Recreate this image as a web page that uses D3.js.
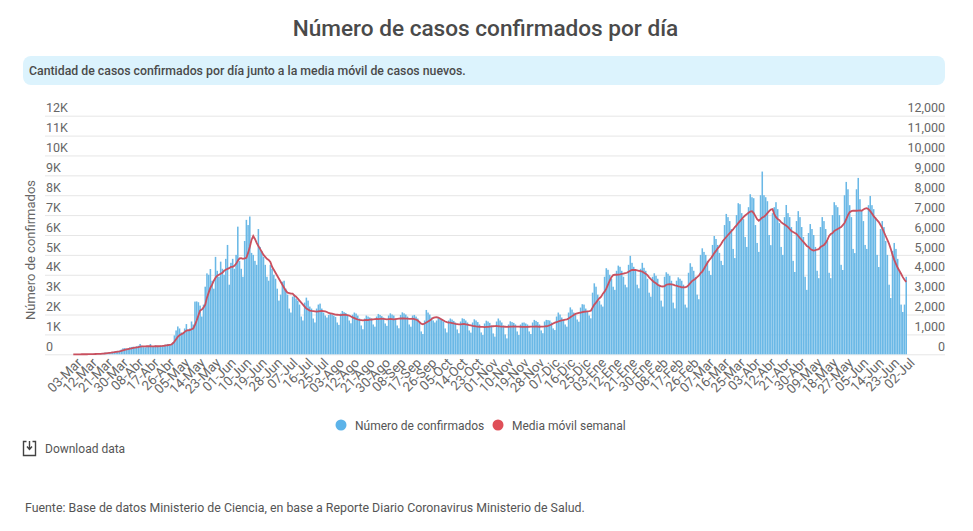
<!DOCTYPE html>
<html>
<head>
<meta charset="utf-8">
<script src="https://cdn.jsdelivr.net/npm/d3@7"></script>
<style>
  body { margin: 0; background: #fff; }
  text { font-family: Roboto, sans-serif; }
</style>
</head>
<body>
<div id="plot"></div>
<script>
// tick labels, one every 9 days
const tickLabels = ["03-Mar","12-Mar","21-Mar","30-Mar","08-Abr","17-Abr","26-Abr","05-May","14-May","23-May",
  "01-Jun","10-Jun","19-Jun","28-Jun","07-Jul","16-Jul","25-Jul","03-Ago","12-Ago","21-Ago","30-Ago",
  "08-Sep","17-Sep","26-Sep","05-Oct","14-Oct","23-Oct","01-Nov","10-Nov","19-Nov","28-Nov",
  "07-Dic","16-Dic","25-Dic","03-Ene","12-Ene","21-Ene","30-Ene","08-Feb","17-Feb","26-Feb",
  "07-Mar","16-Mar","25-Mar","03-Abr","12-Abr","21-Abr","30-Abr","09-May","18-May","27-May",
  "05-Jun","14-Jun","23-Jun","02-Jul"];

const yTicks = [0,1000,2000,3000,4000,5000,6000,7000,8000,9000,10000,11000,12000];

// daily confirmed cases
const confirmed = [1,0,
  2,1,3,4,6,2,3,
  7,10,14,33,17,20,34,
  47,60,75,90,70,80,105,
  120,140,165,170,180,235,300,
  310,290,300,350,370,380,330,
  400,430,520,430,360,350,420,
  400,520,390,410,450,420,360,
  440,420,460,480,520,480,500,
  600,950,1200,1400,1300,1100,1050,
  1300,1520,1200,1300,1650,1500,2650,
  2660,2620,2450,1900,2500,3400,4070,
  4000,4290,3700,3300,4900,4200,3900,
  4660,4300,4000,4800,5500,3500,4600,
  4800,4300,5000,6420,4700,4300,3900,
  5700,6760,6500,6930,5100,5000,4700,
  4500,6300,5400,5200,4900,4500,3900,
  3700,4500,4300,4000,3800,3300,2700,
  3000,3650,3700,3300,3000,2300,2100,
  2900,3000,2800,2700,2500,1900,1700,
  2600,2850,2700,2400,2300,1800,1600,
  2300,2500,2550,2300,2100,1950,1850,
  1980,2060,2000,1950,1880,1600,1480,
  2050,2180,2120,2080,1950,1700,1560,
  1990,2100,2050,1950,1800,1450,1260,
  1800,1950,1900,1850,1800,1500,1390,
  1900,2030,1980,1920,1850,1550,1430,
  1950,2060,2000,1950,1800,1450,1310,
  1980,2110,2060,2000,1900,1500,1390,
  1950,1980,1900,1800,1650,1150,1020,
  1700,2230,2100,2000,1850,1700,1600,
  1700,1860,1800,1750,1650,1300,1100,
  1700,1800,1750,1680,1600,1250,1060,
  1650,1810,1780,1700,1600,1200,1090,
  1600,1760,1700,1620,1500,1100,970,
  1550,1690,1650,1580,1450,1050,890,
  1650,1800,1700,1600,1450,1000,800,
  1500,1660,1620,1580,1500,1150,970,
  1500,1590,1600,1550,1500,1150,1020,
  1600,1730,1680,1620,1500,1200,1060,
  1650,1730,1720,1700,1600,1300,1220,
  1900,2100,2000,1850,1750,1500,1390,
  2100,2360,2250,2100,2000,1750,1640,
  2350,2520,2500,2300,2150,1950,1810,
  3100,3570,3400,3000,2700,2500,2400,
  3900,4330,4250,4000,3800,3400,3240,
  4200,4460,4400,4200,3900,3500,3370,
  4500,4950,4600,4400,4200,3500,3320,
  4300,4600,4350,4200,3800,3100,2900,
  3900,4075,3950,3800,3500,2700,2400,
  3900,4125,4050,3950,3700,2600,2310,
  3700,3870,3800,3700,3500,2500,2350,
  4100,4580,4400,4200,3900,3000,2770,
  5000,5330,5150,5000,4700,4200,3990,
  5500,5950,5800,5500,5100,4700,4490,
  6500,7060,6900,6700,6300,5300,4840,
  7000,7600,7550,7100,6800,5900,5400,
  7400,8050,7900,7850,6500,5600,5150,
  8000,9190,8000,7900,7700,6000,5490,
  7100,7400,7650,7300,6600,5400,5000,
  6900,7510,7100,6900,6400,4700,4140,
  6700,7200,6900,6400,5900,3900,3240,
  6100,6550,6300,6000,5400,4200,3830,
  6400,6900,6700,6300,5700,4100,3830,
  7000,7650,7500,7400,7000,4500,4240,
  8000,8670,8300,7500,6900,5300,5090,
  8300,8870,7800,7200,6700,5500,5300,
  7500,7960,7500,7300,6900,5000,4390,
  6300,6700,6400,5700,5000,3500,2830,
  5200,5600,5300,4800,4200,2500,2130,
  2500,3900];

// weekly moving average
const movingAvg = [0,0,
  1,1,1,2,2,3,3,
  4,6,8,11,14,17,20,
  25,32,40,50,60,70,80,
  92,105,120,135,150,170,195,
  220,245,265,285,300,320,335,
  350,365,385,395,400,400,405,
  405,410,400,395,405,410,405,
  415,420,430,445,455,470,480,
  540,640,760,880,960,1010,1050,
  1130,1190,1210,1220,1260,1300,1480,
  1700,1950,2200,2250,2350,2500,2850,
  3100,3350,3500,3700,3850,3950,4000,
  4050,4100,4200,4250,4300,4330,4400,
  4400,4450,4550,4700,4820,4830,4800,
  4820,4850,5100,5400,5750,5950,5800,
  5600,5450,5300,5150,5000,4900,4800,
  4750,4650,4400,4250,4100,3950,3800,
  3650,3500,3350,3200,3100,3080,3050,
  3050,2950,2900,2800,2700,2600,2500,
  2400,2300,2250,2200,2180,2170,2160,
  2150,2160,2170,2180,2170,2160,2130,
  2080,2060,2040,2020,2000,1990,1980,
  1970,1980,1990,1980,1970,1950,1900,
  1860,1820,1780,1750,1730,1720,1710,
  1720,1730,1720,1740,1750,1760,1770,
  1780,1770,1780,1790,1780,1770,1760,
  1770,1780,1770,1760,1770,1780,1790,
  1800,1810,1800,1790,1790,1780,1780,
  1790,1770,1750,1700,1620,1540,1510,
  1550,1600,1650,1700,1770,1830,1860,
  1870,1850,1800,1750,1700,1650,1620,
  1600,1590,1570,1550,1530,1520,1510,
  1510,1520,1530,1510,1490,1470,1450,
  1430,1420,1400,1390,1385,1380,1375,
  1370,1375,1380,1390,1400,1410,1420,
  1425,1410,1400,1395,1390,1385,1380,
  1385,1390,1395,1400,1395,1390,1390,
  1385,1380,1380,1375,1380,1385,1390,
  1390,1395,1400,1390,1385,1390,1395,
  1400,1410,1430,1460,1500,1550,1590,
  1620,1650,1680,1700,1720,1740,1760,
  1800,1860,1920,1980,2030,2060,2080,
  2100,2120,2140,2150,2160,2170,2190,
  2350,2500,2600,2720,2820,2900,3050,
  3150,3300,3500,3700,3880,3980,4000,
  4000,4010,4020,4040,4060,4080,4100,
  4150,4200,4240,4250,4240,4220,4200,
  4180,4160,4100,4050,3980,3870,3780,
  3700,3620,3570,3500,3450,3420,3410,
  3430,3500,3520,3530,3520,3500,3470,
  3450,3420,3400,3370,3380,3370,3400,
  3480,3580,3680,3740,3800,3880,3950,
  4080,4160,4300,4450,4600,4730,4830,
  4950,5090,5200,5330,5420,5550,5700,
  5800,5900,6000,6090,6200,6280,6400,
  6480,6600,6700,6800,6900,6980,7050,
  7120,7180,7200,7100,6950,6800,6720,
  6800,6880,6920,7000,7100,7200,7280,
  7300,7050,6900,6800,6750,6650,6580,
  6530,6470,6400,6300,6200,6150,6100,
  6050,5950,5850,5750,5650,5550,5450,
  5400,5300,5250,5220,5240,5270,5290,
  5400,5450,5500,5600,5750,5950,6050,
  6100,6200,6250,6300,6350,6400,6500,
  6600,6800,7000,7150,7200,7230,7220,
  7220,7230,7240,7220,7280,7330,7350,
  7300,7200,7080,6950,6850,6750,6650,
  6500,6350,6150,5950,5750,5550,5300,
  5000,4750,4550,4350,4200,4050,3880,
  3750,3640];

const w = 973;
const h = 531;
const textColor = "#666666";
const blue = "#6ab8e6";
const red = "#c9505f";

const svg = d3.select("div#plot")
    .append("svg")
    .attr("width", w)
    .attr("height", h)
    .style("display", "block");

// title and info box
svg.append("text")
    .attr("x", 485.5)
    .attr("y", 36)
    .attr("text-anchor", "middle")
    .attr("font-size", 22.6)
    .attr("font-weight", 500)
    .attr("fill", "#4a4a4a")
    .text("Número de casos confirmados por día");

svg.append("rect")
    .attr("x", 23)
    .attr("y", 56)
    .attr("width", 922)
    .attr("height", 29)
    .attr("rx", 8)
    .attr("fill", "#dcf3fd");

svg.append("text")
    .attr("x", 29)
    .attr("y", 75)
    .attr("font-size", 12.3)
    .attr("font-weight", 500)
    .attr("fill", "#4a4a4a")
    .text("Cantidad de casos confirmados por día junto a la media móvil de casos nuevos.");

// scales
const xScale = d3.scaleBand()
    .domain(d3.range(confirmed.length))
    .range([72.5, 907])
    .paddingInner(0.1);

const yScale = d3.scaleLinear()
    .domain([0, 12000])
    .range([354.3, 115.7]);

// gridlines and y labels sit on the left axis, labels above the lines
const yLeft = d3.axisRight(yScale)
    .tickValues(yTicks)
    .tickSize(900)
    .tickFormat(d => d === 0 ? "0" : (d / 1000) + "K");

const yLeftG = svg.append("g")
    .attr("transform", "translate(45,0)")
    .call(yLeft);
yLeftG.select(".domain").remove();
yLeftG.selectAll("line").attr("stroke", "#e6e6e6");
yLeftG.selectAll("text")
    .attr("x", 1)
    .attr("dy", -3.8)
    .attr("font-size", 12.5)
    .attr("fill", textColor);

const yRight = d3.axisLeft(yScale)
    .tickValues(yTicks)
    .tickSize(0)
    .tickFormat(d3.format(","));

const yRightG = svg.append("g")
    .attr("transform", "translate(945,0)")
    .call(yRight);
yRightG.select(".domain").remove();
yRightG.selectAll("text")
    .attr("x", 0)
    .attr("dy", -3.8)
    .attr("font-size", 12.5)
    .attr("fill", textColor);

svg.append("text")
    .attr("transform", "translate(34.5,250) rotate(-90)")
    .attr("text-anchor", "middle")
    .attr("font-size", 13)
    .attr("fill", textColor)
    .text("Número de confirmados");

// bars
svg.append("g")
  .selectAll("rect")
    .data(confirmed)
  .enter().append("rect")
    .attr("x", (d, i) => xScale(i))
    .attr("y", d => yScale(d))
    .attr("width", xScale.bandwidth())
    .attr("height", d => yScale(0) - yScale(d))
    .attr("fill", blue);

// moving average
const line = d3.line()
    .x((d, i) => xScale(i) + xScale.bandwidth() / 2)
    .y(d => yScale(d));

svg.append("path")
    .datum(movingAvg)
    .attr("d", line)
    .attr("fill", "none")
    .attr("stroke", red)
    .attr("stroke-width", 1.8);

// x axis
const xAxis = d3.axisBottom(xScale)
    .tickValues(tickLabels.map((d, i) => i * 9))
    .tickSize(0)
    .tickFormat(d => tickLabels[d / 9]);

const xG = svg.append("g")
    .attr("transform", "translate(0,354.3)")
    .call(xAxis);
xG.select(".domain").remove();
xG.selectAll("text")
    .attr("text-anchor", "end")
    .attr("transform", "translate(6,6) rotate(-45)")
    .attr("x", 0)
    .attr("y", 0)
    .attr("dy", "0.35em")
    .attr("font-size", 13.3)
    .attr("fill", textColor);

// legend
const legend = [
  {label: "Número de confirmados", color: "#5cb3e9", cx: 341, tx: 355},
  {label: "Media móvil semanal", color: "#df4f58", cx: 498, tx: 512}
];

legend.forEach(d => {
  svg.append("circle")
      .attr("cx", d.cx)
      .attr("cy", 425)
      .attr("r", 5.5)
      .attr("fill", d.color);
  svg.append("text")
      .attr("x", d.tx)
      .attr("y", 429.5)
      .attr("font-size", 12)
      .attr("fill", "#555555")
      .text(d.label);
});

// download link
svg.append("path")
    .attr("d", "M26.5 441.5H23.5V455.5H35.5V441.5H32.5")
    .attr("fill", "none")
    .attr("stroke", "#424242")
    .attr("stroke-width", 1.4);
svg.append("path")
    .attr("d", "M29.5 441V449M27 446.5L29.5 449.5L32 446.5")
    .attr("fill", "none")
    .attr("stroke", "#424242")
    .attr("stroke-width", 1.4);
svg.append("text")
    .attr("x", 45)
    .attr("y", 453)
    .attr("font-size", 12)
    .attr("fill", "#555555")
    .text("Download data");

// source
svg.append("text")
    .attr("x", 25)
    .attr("y", 512)
    .attr("font-size", 12.35)
    .attr("fill", "#555555")
    .text("Fuente: Base de datos Ministerio de Ciencia, en base a Reporte Diario Coronavirus Ministerio de Salud.");
</script>
</body>
</html>
